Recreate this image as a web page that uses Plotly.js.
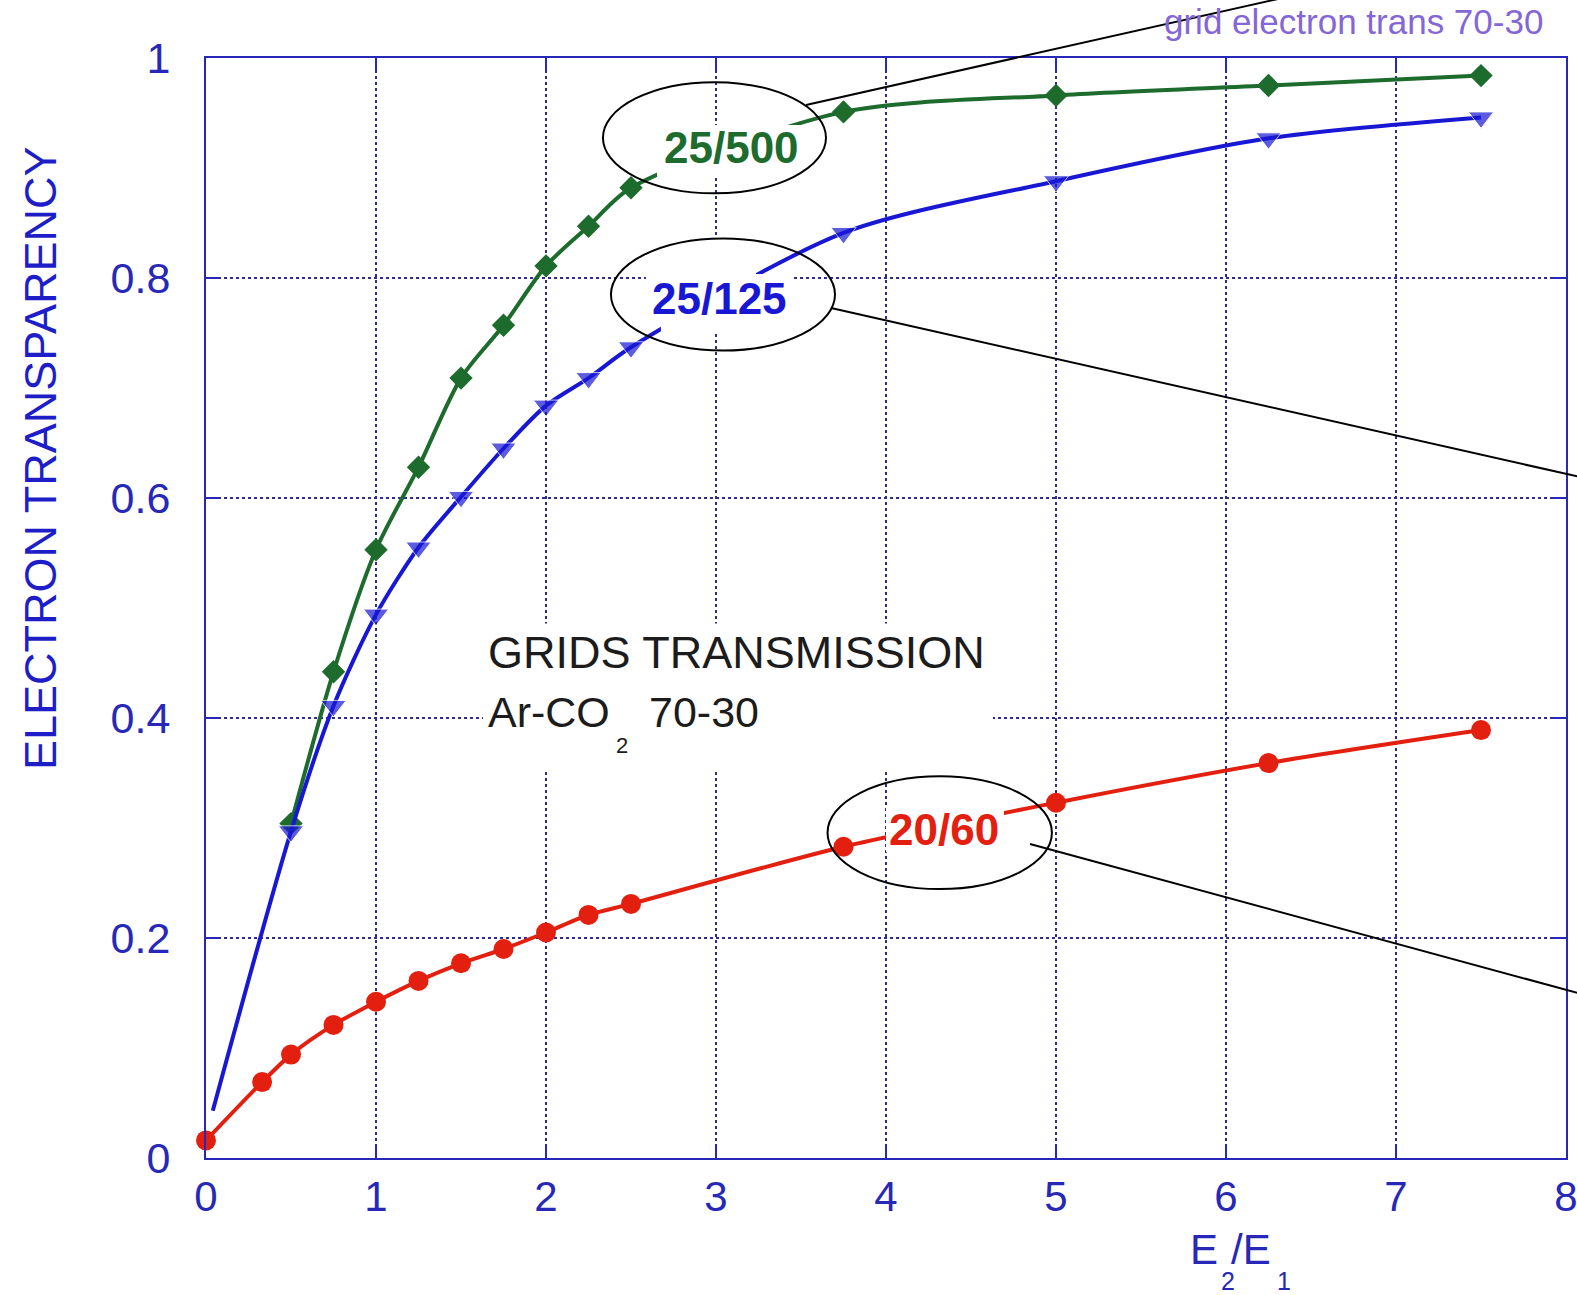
<!DOCTYPE html>
<html>
<head>
<meta charset="utf-8">
<script src="https://cdn.plot.ly/plotly-3.0.1.min.js"></script>
<style>
  html, body { margin: 0; padding: 0; background: #ffffff; }
  #chart { width: 1577px; height: 1295px; }
</style>
</head>
<body>
<div id="chart"></div>
<script>
// Electron transparency of the grids versus field ratio E2/E1, Ar-CO2 70-30

// 25/500 grid
const ratio500 = [0.5, 0.75, 1, 1.25, 1.5, 1.75, 2, 2.25, 2.5, 3.75, 5, 6.25, 7.5];
const trans500 = [0.304, 0.442, 0.553, 0.628, 0.709, 0.757, 0.811, 0.847, 0.882, 0.951, 0.966, 0.975, 0.984];

// 25/125 grid
const ratio125 = [0.04, 0.5, 0.75, 1, 1.25, 1.5, 1.75, 2, 2.25, 2.5, 3.75, 5, 6.25, 7.5];
const trans125 = [0.043, 0.297, 0.411, 0.494, 0.555, 0.601, 0.645, 0.684, 0.709, 0.737, 0.841, 0.888, 0.927, 0.946];

// 20/60 grid
const ratio60 = [0, 0.33, 0.5, 0.75, 1, 1.25, 1.5, 1.75, 2, 2.25, 2.5, 3.75, 5, 6.25, 7.5];
const trans60 = [0.016, 0.069, 0.094, 0.121, 0.142, 0.161, 0.177, 0.190, 0.205, 0.221, 0.231, 0.283, 0.323, 0.359, 0.389];

// axis ticks
const xTicks = [0, 1, 2, 3, 4, 5, 6, 7, 8];
const yTicks = [0, 0.2, 0.4, 0.6, 0.8, 1];
const yTickText = ['0', '0.2', '0.4', '0.6', '0.8', '1'];

const FONT = '"Liberation Sans", Arial, Helvetica, sans-serif';
const AXIS_BLUE = '#2828b8';
const GRID_BLUE = '#2b2b90';
const GREEN = '#1d6b2d';
const BLUE = '#1818d4';
const RED = '#e3200f';

const traces = [
  {
    x: ratio500, y: trans500, type: 'scatter', mode: 'lines+markers',
    line: { color: GREEN, width: 4, shape: 'spline', smoothing: 0.8 },
    marker: { symbol: 'diamond', size: 18, color: GREEN },
    cliponaxis: false, hoverinfo: 'skip'
  },
  {
    x: ratio125, y: trans125, type: 'scatter', mode: 'lines+markers',
    line: { color: BLUE, width: 4, shape: 'spline', smoothing: 0.8 },
    // the first sample is drawn as the line start only
    marker: { symbol: 'triangle-down', size: ratio125.map((v, i) => (i === 0 ? 0 : 22)), color: BLUE },
    cliponaxis: false, hoverinfo: 'skip'
  },
  {
    x: ratio60, y: trans60, type: 'scatter', mode: 'lines+markers',
    line: { color: RED, width: 4, shape: 'spline', smoothing: 0.8 },
    marker: { symbol: 'circle', size: 20, color: RED },
    cliponaxis: false, hoverinfo: 'skip'
  }
];

const axisCommon = {
  showline: true, linecolor: AXIS_BLUE, linewidth: 2, mirror: 'ticks',
  ticks: 'inside', ticklen: 13, tickwidth: 2, tickcolor: AXIS_BLUE,
  showgrid: true, gridcolor: GRID_BLUE, gridwidth: 1.5, griddash: 'dot',
  zeroline: false, fixedrange: true, ticklabeloverflow: 'allow',
  tickfont: { family: FONT, size: 42, color: AXIS_BLUE }
};

// white knock-out boxes behind the labels, then the ellipses and leader lines
const whiteBox = (x0, x1, y0, y1) => ({
  type: 'rect', xref: 'x', yref: 'y', x0, x1, y0, y1,
  fillcolor: '#ffffff', line: { width: 0 }, layer: 'above'
});
const ellipse = (x0, x1, y0, y1) => ({
  type: 'circle', xref: 'x', yref: 'y', x0, x1, y0, y1,
  line: { color: '#000000', width: 2 }, fillcolor: 'rgba(0,0,0,0)', layer: 'above'
});
const leader = (x0, y0, x1, y1) => ({
  type: 'line', xref: 'paper', yref: 'paper', x0, y0, x1, y1,
  line: { color: '#000000', width: 2 }, layer: 'above'
});

const shapes = [
  whiteBox(2.653, 3.524, 0.892, 0.939),   // 25/500 label
  whiteBox(2.676, 3.235, 0.751, 0.836),   // 25/125 label
  whiteBox(2.588, 3.447, 0.795, 0.8036),
  whiteBox(4.0, 4.694, 0.278, 0.320),     // 20/60 label
  whiteBox(1.629, 4.629, 0.3527, 0.486),  // gas mixture caption
  ellipse(2.335, 3.647, 0.877, 0.978),
  ellipse(2.382, 3.700, 0.734, 0.836),
  ellipse(3.656, 4.976, 0.2445, 0.347),
  leader(0.4412, 0.9573, 0.8176, 1.0618),
  leader(0.4596, 0.7727, 1.025, 0.615),
  leader(0.6059, 0.2855, 1.025, 0.1445)
];

const txt = (text, x, y, size, color, extra) => Object.assign({
  text, x, y, xref: 'x', yref: 'y', showarrow: false,
  xanchor: 'center', yanchor: 'middle',
  font: { family: FONT, size, color }
}, extra || {});

const annotations = [
  txt('<b>25/500</b>', 3.094, 0.9186, 44, GREEN),
  txt('<b>25/125</b>', 3.018, 0.781, 44, BLUE),
  txt('<b>20/60</b>', 4.344, 0.299, 44, RED),
  txt('GRIDS TRANSMISSION', 1.647, 0.46, 45, '#1c1c1c', { xanchor: 'left' }),
  txt('Ar-CO', 1.647, 0.4055, 43, '#1c1c1c', { xanchor: 'left' }),
  txt('2', 2.447, 0.375, 22, '#1c1c1c'),
  txt('70-30', 2.593, 0.4055, 43, '#1c1c1c', { xanchor: 'left' }),
  // y axis title
  txt('ELECTRON TRANSPARENCY', -0.1213, 0.6355, 45, '#1e1ec8', { xref: 'paper', yref: 'paper', textangle: -90 }),
  // x axis title E2/E1
  txt('E', 0.722, -0.0836, 42, AXIS_BLUE, { xref: 'paper', yref: 'paper', xanchor: 'left' }),
  txt('2', 0.7515, -0.1118, 25, AXIS_BLUE, { xref: 'paper', yref: 'paper' }),
  txt('/E', 0.7525, -0.0836, 42, AXIS_BLUE, { xref: 'paper', yref: 'paper', xanchor: 'left' }),
  txt('1', 0.7925, -0.1118, 25, AXIS_BLUE, { xref: 'paper', yref: 'paper' }),
  // figure note
  txt('grid electron trans 70-30', 0.9846, 1.0336, 35, '#8466d6', { xref: 'paper', yref: 'paper', xanchor: 'right' })
];

const layout = {
  width: 1577, height: 1295,
  margin: { l: 206, r: 11, t: 58, b: 137, pad: 0 },
  paper_bgcolor: '#ffffff', plot_bgcolor: '#ffffff',
  showlegend: false,
  font: { family: FONT },
  xaxis: Object.assign({}, axisCommon, {
    range: [0, 8], tickmode: 'array', tickvals: xTicks, ticklabelstandoff: 1
  }),
  yaxis: Object.assign({}, axisCommon, {
    range: [0, 1], tickmode: 'array', tickvals: yTicks, ticktext: yTickText, ticklabelstandoff: 25,
    tickfont: { family: FONT, size: 43, color: AXIS_BLUE }
  }),
  shapes, annotations
};

Plotly.newPlot('chart', traces, layout, { staticPlot: true, displayModeBar: false });
</script>
</body>
</html>
